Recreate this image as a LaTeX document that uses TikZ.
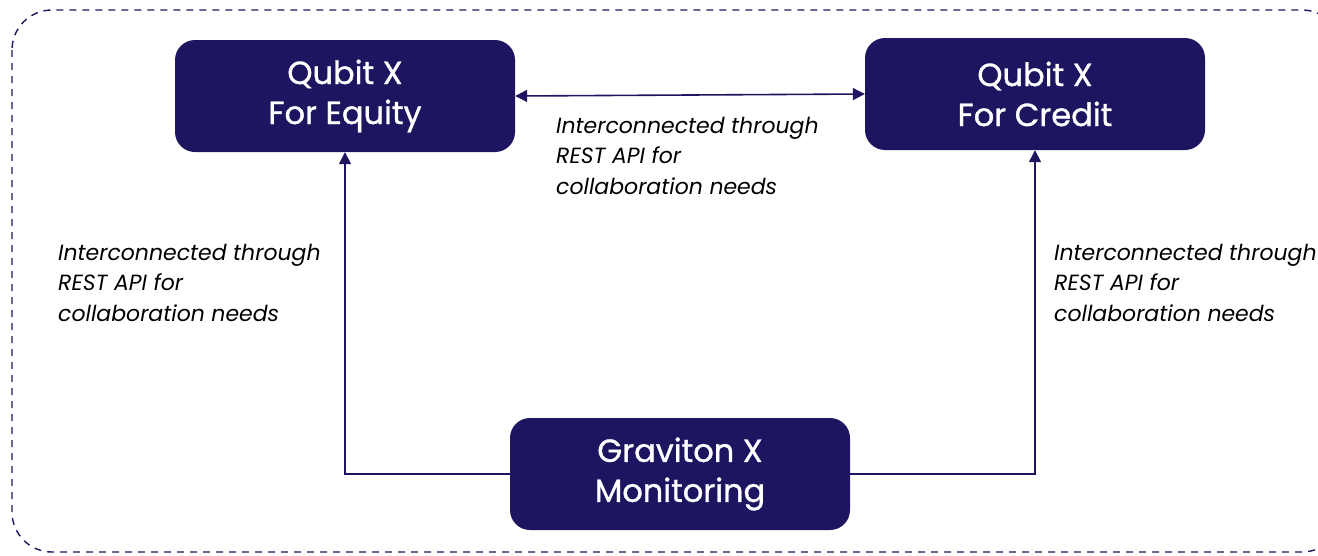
\documentclass[tikz,border=0pt]{standalone}
\usepackage{fontspec}
\setmainfont{Poppins}
\newfontfamily\boxfont[FakeBold=1]{Poppins}
\usetikzlibrary{arrows.meta}
\definecolor{navy}{RGB}{29,21,96}
\tikzset{
  box/.style={fill=navy, rounded corners=20pt, minimum width=340pt, minimum height=112pt,
    text=white, align=center, font=\boxfont\fontsize{32}{40}\selectfont, inner sep=0pt},
  lbl/.style={anchor=north west, align=left, inner sep=0pt,
    font=\fontsize{22}{30.5}\selectfont\itshape, text=black},
  conn/.style={draw=navy, line width=1.6pt, -{Triangle[length=12pt,width=12pt]}},
  frame/.style={draw=navy, line width=1.4pt, dash pattern=on 7pt off 6pt, rounded corners=40pt}
}
\begin{document}
\begin{tikzpicture}[x=1pt,y=-1pt]
\useasboundingbox (0,0) rectangle (1318,555);
\begin{scope}
\clip (0,0) rectangle (1318,555);
\draw[frame] (12,10) rectangle (1342,552);
\end{scope}
\node[box] (eq) at (345,96) {Qubit X\\For Equity};
\node[box] (cr) at (1035,94) {Qubit X\\For Credit};
\node[box] (gr) at (680,474) {Graviton X\\Monitoring};
\draw[conn, {Triangle[length=12pt,width=12pt]}-{Triangle[length=12pt,width=12pt]}] (eq.east |- 0,96) -- (cr.west |- 0,94);
\draw[conn] (gr.west) -| (eq.south);
\draw[conn] (gr.east) -| (cr.south);
\node[lbl] (l1) at (556,117) {Interconnected through\\REST API for\\collaboration needs};
\node[lbl] (l2) at (58,244) {Interconnected through\\REST API for\\collaboration needs};
\node[lbl] (l3) at (1054,244) {Interconnected through\\REST API for\\collaboration needs};
\end{tikzpicture}
\end{document}
